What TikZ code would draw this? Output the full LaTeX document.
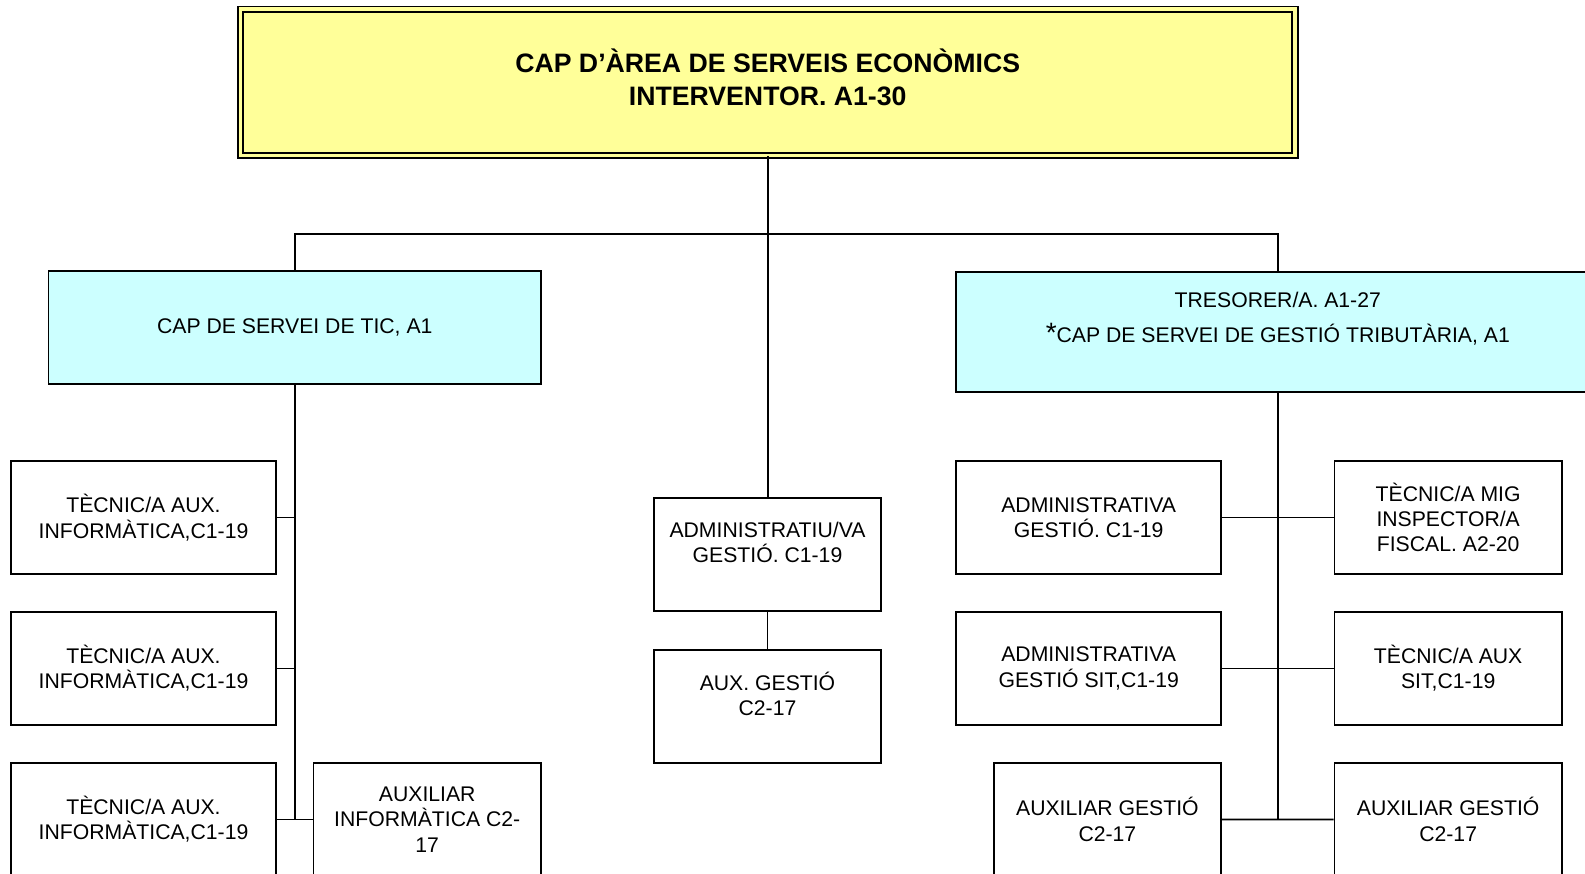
\documentclass[tikz,border=0pt]{standalone}
\usepackage{fontspec}
\setmainfont{Liberation Sans}
\usetikzlibrary{positioning}
\definecolor{capyellow}{HTML}{FFFF99}
\definecolor{headcyan}{HTML}{CCFFFF}

\begin{document}
\begin{tikzpicture}[x=0.75pt, y=-0.75pt, on grid, line width=1.3pt,
    box/.style={draw, fill=white, align=center, inner sep=0pt,
        minimum width=170.5pt, minimum height=84.75pt,
        font=\fontsize{15.9}{19}\selectfont},
    wide/.style={box, minimum width=198.6pt},
    head/.style={box, fill=headcyan},
    chief/.style={draw, double=capyellow, double distance=2.8pt, fill=capyellow,
        align=center, inner sep=0pt, minimum width=790.9pt, minimum height=109.8pt,
        font=\bfseries\fontsize{20}{25}\selectfont}]
    \useasboundingbox (0,0) rectangle (1585,874);
    \clip (0,0) rectangle (1585,874);

    \node[chief] (cap) at (767.7,82.4) {CAP D’ÀREA DE SERVEIS ECONÒMICS\\INTERVENTOR. A1-30\\[-17pt]\mbox{}};
    \node[head, minimum width=369.4pt] (tic) at (294.8,327.5) {CAP DE SERVEI DE TIC, A1};
    \node[head, minimum width=482.3pt, minimum height=90.2pt] (tres) at (1277.8,331.9)
        {TRESORER/A. A1-27\\[7.5pt]{\fontsize{21}{19}\selectfont*}CAP DE SERVEI DE GESTIÓ TRIBUTÀRIA, A1\\[3pt]\mbox{}};

    \node[wide] (tec1) at (143.5,517.5) {TÈCNIC/A AUX.\\INFORMÀTICA,C1-19};
    \node[wide] (tec2) [below=113.2pt of tec1] {TÈCNIC/A AUX.\\INFORMÀTICA,C1-19};
    \node[wide] (tec3) [below=113.2pt of tec2] {TÈCNIC/A AUX.\\INFORMÀTICA,C1-19};
    \node[box] (auxinf) [right=212.8pt of tec3] {AUXILIAR\\INFORMÀTICA C2-\\17};

    \node[box] (adm) at (767.5,554.8) {ADMINISTRATIU/VA\\GESTIÓ. C1-19\\\mbox{}};
    \node[box] (auxg) [below=113.8pt of adm] {AUX. GESTIÓ\\C2-17\\\mbox{}};

    \node[wide] (adm1) at (1088.7,517.5) {ADMINISTRATIVA\\GESTIÓ. C1-19};
    \node[wide] (adm2) [below=113.2pt of adm1] {ADMINISTRATIVA\\GESTIÓ SIT,C1-19};
    \node[box] (auxg2) at (1107.4,819.5) {AUXILIAR GESTIÓ\\C2-17};
    \node[box] (tecmig) [right=269.6pt of adm1] {TÈCNIC/A MIG\\INSPECTOR/A\\FISCAL. A2-20};
    \node[box] (tecaux) [below=113.2pt of tecmig] {TÈCNIC/A AUX\\SIT,C1-19};
    \node[box] (auxg3) [below=113.2pt of tecaux] {AUXILIAR GESTIÓ\\C2-17};

    \coordinate (fork) at (767.7,234);
    \draw (cap.south) -- (cap.south |- adm.north);
    \draw (tic.north) |- (fork) -| (tres.north);
    \draw (adm) -- (auxg);

    \draw (tic.south) -- (tic.south |- tec3.east);
    \draw (tec1.east) -- (tec1.east -| tic.south);
    \draw (tec2.east) -- (tec2.east -| tic.south);
    \draw (tec3) -- (auxinf);

    \draw (tres.south) -- (tres.south |- auxg2.east);
    \draw (adm1) -- (tecmig);
    \draw (adm2) -- (tecaux);
    \draw (auxg2) -- (auxg3);
\end{tikzpicture}
\end{document}
